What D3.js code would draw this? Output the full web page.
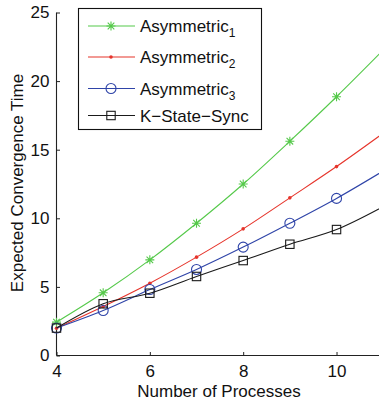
<!DOCTYPE html>
<html>
<head>
<meta charset="utf-8">
<script src="https://cdn.jsdelivr.net/npm/d3@7"></script>
<style>
  html, body { margin: 0; padding: 0; background: #fff; }
  svg { display: block; font-family: "Liberation Sans", Arial, sans-serif; }
</style>
</head>
<body>
<svg id="chart" width="379" height="401"></svg>
<script>
// Number of processes (curve samples) and the subset that carries markers
const processes = [4, 5, 6, 7, 8, 9, 10, 11];
const markedProcesses = [4, 5, 6, 7, 8, 9, 10];

// Expected convergence time per protocol
const asymmetric1 = [2.43, 4.57, 6.97, 9.64, 12.5, 15.62, 18.86, 22.26];
const asymmetric2 = [1.99, 3.57, 5.27, 7.17, 9.23, 11.49, 13.77, 16.2];
const asymmetric3 = [2.0, 3.28, 4.81, 6.27, 7.9, 9.64, 11.45, 13.45];
const kStateSync  = [2.0, 3.77, 4.54, 5.76, 6.92, 8.11, 9.18, 10.85];

const seriesNames = ["Asymmetric", "Asymmetric", "Asymmetric", "K\u2212State\u2212Sync"];
const seriesSubs  = ["1", "2", "3", ""];

const xTicks = [4, 6, 8, 10];
const yTicks = [0, 5, 10, 15, 20, 25];

const svg = d3.select("#chart");

const x = d3.scaleLinear().domain([4, 11]).range([56.5, 383.2]);
const y = d3.scaleLinear().domain([0, 25]).range([355.5, 12.5]);

const series = [
  { values: asymmetric1, color: "#55c94a", marker: "star" },
  { values: asymmetric2, color: "#e6342b", marker: "dot" },
  { values: asymmetric3, color: "#2f44a8", marker: "circle" },
  { values: kStateSync,  color: "#1a1a1a", marker: "square" }
];

// Axes: MATLAB-like inward ticks, no box
const yAxis = d3.axisLeft(y).tickValues(yTicks).tickFormat(d3.format("d")).tickSize(-3.5).tickPadding(7);
const xAxis = d3.axisBottom(x).tickValues(xTicks).tickFormat(d3.format("d")).tickSize(-3.5).tickPadding(9);

const gy = svg.append("g").attr("transform", `translate(${x(4)},0)`).call(yAxis);
const gx = svg.append("g").attr("transform", `translate(0,${y(0)})`).call(xAxis);

[gx, gy].forEach(g => {
  g.select(".domain").attr("stroke", "#222").attr("stroke-width", 1.1);
  g.selectAll(".tick line").attr("stroke", "#222");
  g.selectAll(".tick text").attr("fill", "#111").style("font-size", "17px").style("font-family", "Liberation Sans, Arial, sans-serif");
});
gx.select(".domain").attr("d", `M${x(4)},0H${x(11)}`);
gy.select(".domain").attr("d", `M0,${y(0)}V${y(25)}`);

// Axis titles
svg.append("text")
  .attr("x", 219).attr("y", 397)
  .attr("text-anchor", "middle")
  .style("font-size", "17px").attr("fill", "#111")
  .text("Number of Processes");

svg.append("text")
  .attr("transform", "translate(23,183) rotate(-90)")
  .attr("text-anchor", "middle")
  .style("font-size", "17px").attr("fill", "#111")
  .text("Expected Convergence Time");

// Marker drawing
function drawMarker(g, type, color) {
  if (type === "star") {
    const s = 4.5, d = 3.3;
    g.append("path")
      .attr("d", `M${-s},0H${s}M0,${-s}V${s}M${-d},${-d}L${d},${d}M${-d},${d}L${d},${-d}`)
      .attr("stroke", color).attr("stroke-width", 1.1).attr("fill", "none");
  } else if (type === "dot") {
    g.append("circle").attr("r", 1.8).attr("fill", color);
  } else if (type === "circle") {
    g.append("circle").attr("r", 5).attr("fill", "none").attr("stroke", color).attr("stroke-width", 1.1);
  } else if (type === "square") {
    g.append("rect").attr("x", -4.2).attr("y", -4.2).attr("width", 8.4).attr("height", 8.4)
      .attr("fill", "none").attr("stroke", color).attr("stroke-width", 1.1);
  }
}

const line = d3.line()
  .x((d, i) => x(processes[i]))
  .y(d => y(d))
  .curve(d3.curveMonotoneX);

series.forEach(s => {
  svg.append("path")
    .datum(s.values)
    .attr("d", line)
    .attr("fill", "none")
    .attr("stroke", s.color)
    .attr("stroke-width", 1.1);

  markedProcesses.forEach((p, i) => {
    const g = svg.append("g").attr("transform", `translate(${x(p)},${y(s.values[i])})`);
    drawMarker(g, s.marker, s.color);
  });
});

// Legend
const legend = svg.append("g");
legend.append("rect")
  .attr("x", 78.5).attr("y", 8.5).attr("width", 183).attr("height", 121)
  .attr("fill", "#fff").attr("stroke", "#111").attr("stroke-width", 1.1);

const legendY = [26, 57, 88.5, 115.5];
series.forEach((s, i) => {
  const g = legend.append("g");
  g.append("line")
    .attr("x1", 88).attr("x2", 135)
    .attr("y1", legendY[i]).attr("y2", legendY[i])
    .attr("stroke", s.color).attr("stroke-width", 1.1);
  const m = g.append("g").attr("transform", `translate(111,${legendY[i]})`);
  drawMarker(m, s.marker, s.color);
  const t = g.append("text")
    .attr("x", 140).attr("y", legendY[i] + 6)
    .style("font-size", "17px").attr("fill", "#111");
  t.append("tspan").text(seriesNames[i]);
  if (seriesSubs[i]) {
    t.append("tspan").attr("dy", 5).style("font-size", "12px").text(seriesSubs[i]);
  }
});
</script>
</body>
</html>
